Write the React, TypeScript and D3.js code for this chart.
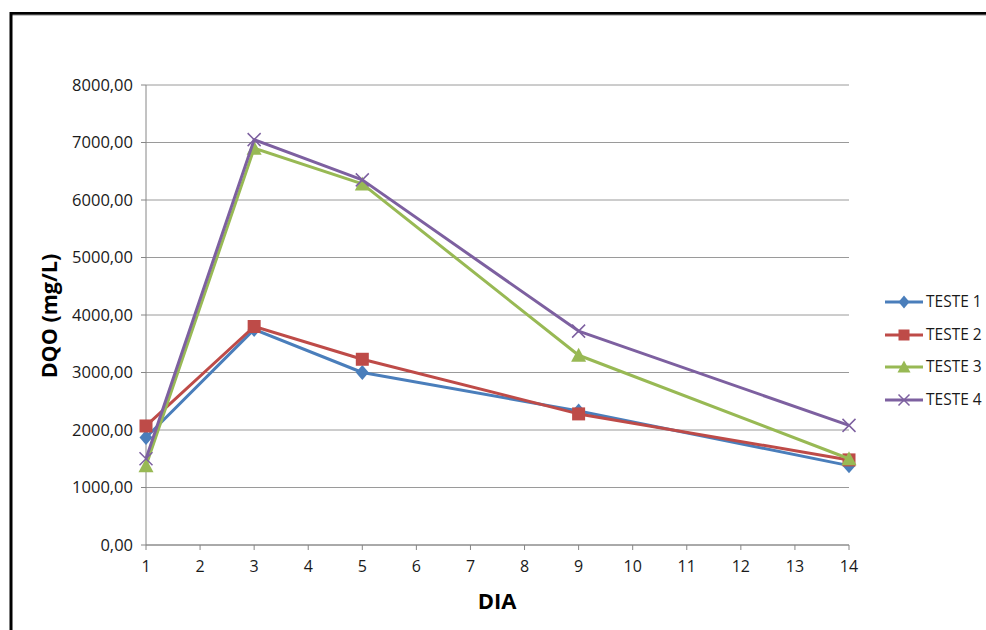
import * as d3 from "d3";

const days = [1, 3, 5, 9, 14];
const teste1 = [1870, 3750, 3000, 2330, 1380];
const teste2 = [2070, 3800, 3230, 2280, 1480];
const teste3 = [1380, 6900, 6280, 3300, 1500];
const teste4 = [1500, 7050, 6350, 3720, 2080];

const seriesNames = ["TESTE 1", "TESTE 2", "TESTE 3", "TESTE 4"];
const seriesColors = ["#4A7EBB", "#BE4B48", "#98B954", "#7D60A0"];
const seriesMarkers = ["diamond", "square", "triangle", "cross"];
const xTicks = d3.range(1, 15);
const yTicks = d3.range(0, 8001, 1000);

const W = 986;
const H = 630;
const font = "'Open Sans', sans-serif";

const Marker = ({ kind, x, y, color, s = 6 }: { kind: string; x: number; y: number; color: string; s?: number }) => {
  if (kind === "diamond")
    return <path d={`M${x},${y - s - 1} L${x + s},${y} L${x},${y + s + 1} L${x - s},${y} Z`} fill={color} />;
  if (kind === "square")
    return <rect x={x - s} y={y - s} width={s * 2} height={s * 2} fill={color} />;
  if (kind === "triangle")
    return <path d={`M${x},${y - s - 1} L${x + s + 1},${y + s} L${x - s - 1},${y + s} Z`} fill={color} />;
  return (
    <path
      d={`M${x - s},${y - s} L${x + s},${y + s} M${x - s},${y + s} L${x + s},${y - s}`}
      stroke={color}
      strokeWidth={1.5}
      fill="none"
    />
  );
};

const App = () => {
  const x = d3.scaleLinear().domain([1, 14]).range([146, 849]);
  const y = d3.scaleLinear().domain([0, 8000]).range([545, 85]);
  const fmt = (v: number) => d3.format(".2f")(v).replace(".", ",");
  const line = d3
    .line<[number, number]>()
    .x((d) => x(d[0]))
    .y((d) => y(d[1]));
  const allSeries = [teste1, teste2, teste3, teste4];

  return (
    <svg
      width={W}
      height={H}
      viewBox={`0 0 ${W} ${H}`}
      style={{ position: "absolute", left: 0, top: 0, background: "#fff" }}
      fontFamily={font}
    >
      <rect x={0} y={0} width={W} height={H} fill="#fff" />
      {/* outer frame */}
      <line x1={11} y1={13.5} x2={W} y2={13.5} stroke="#000" strokeWidth={3} />
      <line x1={11} y1={15} x2={W} y2={15} stroke="#888" strokeWidth={1} />
      <line x1={11} y1={12} x2={11} y2={H} stroke="#000" strokeWidth={3} />

      {/* gridlines */}
      {yTicks.map((t) => (
        <line key={t} x1={x(1)} x2={x(14)} y1={y(t)} y2={y(t)} stroke="#9a9a9a" strokeWidth={1} />
      ))}
      {/* y axis */}
      <line x1={x(1)} x2={x(1)} y1={y(8000)} y2={y(0)} stroke="#868686" />
      {yTicks.map((t) => (
        <g key={t}>
          <line x1={x(1) - 5} x2={x(1)} y1={y(t)} y2={y(t)} stroke="#868686" />
          <text x={133} y={y(t)} dy="0.35em" textAnchor="end" fontSize={16.5} fill="#1a1a1a">
            {fmt(t)}
          </text>
        </g>
      ))}
      {/* x axis */}
      <line x1={x(1)} x2={x(14)} y1={y(0)} y2={y(0)} stroke="#868686" />
      {xTicks.map((t) => (
        <g key={t}>
          <line x1={x(t)} x2={x(t)} y1={y(0)} y2={y(0) + 5} stroke="#868686" />
          <text x={x(t)} y={566} dy="0.35em" textAnchor="middle" fontSize={16} fill="#1a1a1a">
            {t}
          </text>
        </g>
      ))}

      {/* axis titles */}
      <text x={497} y={601} dy="0.35em" textAnchor="middle" fontSize={22} fontWeight="bold" fill="#000">
        DIA
      </text>
      <text
        transform="translate(49,316) rotate(-90)"
        dy="0.35em"
        textAnchor="middle"
        fontSize={21.5}
        fontWeight="bold"
        fill="#000"
      >
        DQO (mg/L)
      </text>

      {/* series */}
      {allSeries.map((vals, i) => {
        const pts = days.map((d, j) => [d, vals[j]] as [number, number]);
        return (
          <g key={i}>
            <path d={line(pts) ?? undefined} fill="none" stroke={seriesColors[i]} strokeWidth={3} strokeLinejoin="round" />
            {pts.map((p, j) => (
              <Marker key={j} kind={seriesMarkers[i]} x={x(p[0])} y={y(p[1])} color={seriesColors[i]} s={6.5} />
            ))}
          </g>
        );
      })}

      {/* legend */}
      {seriesNames.map((name, i) => {
        const ly = [302, 335, 367, 400][i];
        return (
          <g key={name}>
            <line x1={885} x2={923} y1={ly} y2={ly} stroke={seriesColors[i]} strokeWidth={3} />
            <Marker kind={seriesMarkers[i]} x={904} y={ly} color={seriesColors[i]} s={5.5} />
            <text x={926} y={ly} dy="0.35em" fontSize={15.5} fill="#1a1a1a">
              {name}
            </text>
          </g>
        );
      })}
    </svg>
  );
};

export default App;
